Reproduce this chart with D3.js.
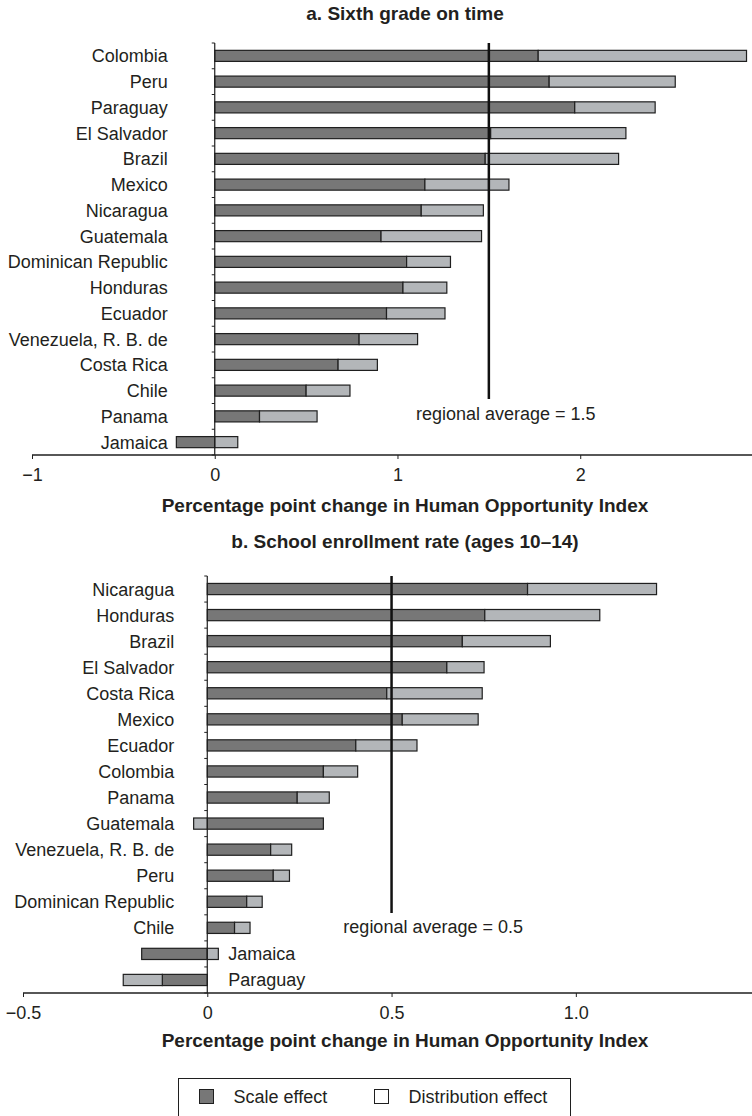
<!DOCTYPE html>
<html>
<head>
<meta charset="utf-8">
<script src="https://cdn.jsdelivr.net/npm/d3@7"></script>
<style>
  body { margin: 0; background: #fff; }
  svg { display: block; }
  .lbl { font-family: "Liberation Sans", Arial, sans-serif; font-size: 18px; fill: #231f20; }
  .ttl { font-family: "Liberation Sans Narrow", "Liberation Sans", Arial, sans-serif; font-weight: bold; font-size: 19px; fill: #231f20; }
</style>
</head>
<body>
<div id="chart"></div>
<script>
// panel a: sixth grade on time
var topTitle = 'a. Sixth grade on time';
var topCountries = ['Colombia', 'Peru', 'Paraguay', 'El Salvador', 'Brazil', 'Mexico', 'Nicaragua',
  'Guatemala', 'Dominican Republic', 'Honduras', 'Ecuador', 'Venezuela, R. B. de', 'Costa Rica',
  'Chile', 'Panama', 'Jamaica'];
var topScale = [1.77, 1.83, 1.97, 1.51, 1.48, 1.15, 1.13, 0.91, 1.05, 1.03, 0.94, 0.79, 0.675, 0.50, 0.245, -0.21];
var topDist  = [1.14, 0.69, 0.44, 0.74, 0.73, 0.46, 0.34, 0.55, 0.24, 0.24, 0.32, 0.32, 0.215, 0.24, 0.315, 0.126];
var topTicks = [-1, 0, 1, 2];
var topTickLabels = ['\u22121', '0', '1', '2'];
var topAverage = 1.5;

// panel b: school enrollment rate
var botTitle = 'b. School enrollment rate (ages 10\u201314)';
var botCountries = ['Nicaragua', 'Honduras', 'Brazil', 'El Salvador', 'Costa Rica', 'Mexico', 'Ecuador',
  'Colombia', 'Panama', 'Guatemala', 'Venezuela, R. B. de', 'Peru', 'Dominican Republic', 'Chile',
  'Jamaica', 'Paraguay'];
var botScale = [0.869, 0.753, 0.692, 0.650, 0.487, 0.529, 0.403, 0.315, 0.244, 0.315, 0.172, 0.179, 0.107, 0.074, -0.178, -0.122];
var botDist  = [0.350, 0.312, 0.239, 0.101, 0.259, 0.206, 0.166, 0.093, 0.087, -0.037, 0.057, 0.044, 0.042, 0.042, 0.030, -0.106];
var botTicks = [-0.5, 0, 0.5, 1.0];
var botTickLabels = ['\u22120.5', '0', '0.5', '1.0'];
var botAverage = 0.5;
var botRightLabels = ['Jamaica', 'Paraguay'];

var xTitle = 'Percentage point change in Human Opportunity Index';
var legendLabels = ['Scale effect', 'Distribution effect'];

var W = 752, H = 1116;
var dark = '#777777', light = '#b3b6b9', ink = '#1f1f1f';

var svg = d3.select('#chart').append('svg').attr('width', W).attr('height', H);

function drawPanel(p) {
  var rows = p.countries.map(function(c, i) {
    return {country: c, scale: p.scale[i], dist: p.dist[i]};
  });
  var x = d3.scaleLinear().domain(p.domain).range([p.left, W]);
  var y = d3.scaleBand().domain(p.countries).range([p.top, p.bottom]);
  var barH = y.bandwidth() * 0.43;
  var g = svg.append('g');

  var series = d3.stack().keys(['scale', 'dist']).offset(d3.stackOffsetDiverging)(rows);
  var fills = {scale: dark, dist: light};

  series.forEach(function(s) {
    g.selectAll(null).data(s).enter().append('rect')
      .attr('x', function(d) { return x(Math.min(d[0], d[1])); })
      .attr('width', function(d) { return Math.abs(x(d[1]) - x(d[0])); })
      .attr('y', function(d) { return y(d.data.country) + (y.bandwidth() - barH) / 2; })
      .attr('height', barH)
      .attr('fill', fills[s.key])
      .attr('stroke', ink)
      .attr('stroke-width', 1.2);
  });

  // y axis line with ticks at band edges
  var x0 = x(0);
  g.append('line').attr('x1', x0).attr('x2', x0).attr('y1', p.top).attr('y2', p.bottom)
    .attr('stroke', ink).attr('stroke-width', 1.2);
  var edges = p.countries.map(function(c) { return y(c); }).concat([p.bottom]);
  g.selectAll(null).data(edges).enter().append('line')
    .attr('x1', x0 - 3).attr('x2', x0).attr('y1', function(d) { return d; }).attr('y2', function(d) { return d; })
    .attr('stroke', ink).attr('stroke-width', 1);

  // category labels
  g.selectAll(null).data(p.countries).enter().append('text')
    .attr('class', 'lbl')
    .attr('x', function(c) { return p.rightLabels.indexOf(c) >= 0 ? x0 + 21 : x0 - p.labelGap; })
    .attr('y', function(c) { return y(c) + y.bandwidth() / 2 + 6.5; })
    .attr('text-anchor', function(c) { return p.rightLabels.indexOf(c) >= 0 ? 'start' : 'end'; })
    .text(function(c) { return c; });

  // x axis
  var xAxis = d3.axisBottom(x).tickValues(p.ticks).tickSize(4).tickSizeOuter(0)
    .tickFormat(function(d, i) { return p.tickLabels[i]; });
  var ax = g.append('g').attr('transform', 'translate(0,' + p.bottom + ')').call(xAxis);
  ax.select('.domain').attr('stroke', ink).attr('stroke-width', 1.5).attr('d', 'M' + x(p.domain[0]) + ',0H' + W);
  ax.selectAll('.tick line').attr('stroke', ink).attr('stroke-width', 1);
  ax.selectAll('.tick text').attr('class', 'lbl').attr('font-size', null).attr('font-family', null)
    .attr('fill', null).attr('dy', null).attr('y', p.tickY - p.bottom);

  // regional average
  var xa = x(p.average);
  g.append('line').attr('x1', xa).attr('x2', xa).attr('y1', p.top).attr('y2', p.avgBottom)
    .attr('stroke', '#111').attr('stroke-width', 2.5);
  g.append('text').attr('class', 'lbl')
    .attr('x', p.avgLabelX).attr('y', p.avgLabelY)
    .attr('text-anchor', p.avgAnchor)
    .text('regional average = ' + p.average);

  // titles
  g.append('text').attr('class', 'ttl').attr('x', 405).attr('y', p.titleY)
    .attr('text-anchor', 'middle').text(p.title);
  g.append('text').attr('class', 'ttl').attr('x', 405).attr('y', p.xTitleY)
    .attr('text-anchor', 'middle').text(xTitle);
}

drawPanel({
  title: topTitle, countries: topCountries, scale: topScale, dist: topDist,
  domain: [-1, 2.94], left: 32, top: 43, bottom: 455,
  ticks: topTicks, tickLabels: topTickLabels, tickY: 481,
  average: topAverage, avgBottom: 399, avgLabelX: 416, avgLabelY: 420, avgAnchor: 'start',
  labelGap: 47, rightLabels: [], titleY: 20, xTitleY: 512
});

drawPanel({
  title: botTitle, countries: botCountries, scale: botScale, dist: botDist,
  domain: [-0.5, 1.478], left: 23, top: 576, bottom: 993,
  ticks: botTicks, tickLabels: botTickLabels, tickY: 1019,
  average: botAverage, avgBottom: 913, avgLabelX: 523, avgLabelY: 933, avgAnchor: 'end',
  labelGap: 33, rightLabels: botRightLabels, titleY: 548, xTitleY: 1047
});

// legend
var lg = svg.append('g');
lg.append('rect').attr('x', 178.5).attr('y', 1078.5).attr('width', 392).attr('height', 50)
  .attr('fill', 'none').attr('stroke', ink).attr('stroke-width', 1);
var legendX = [199.5, 374.5];
var legendFill = [dark, '#fff'];
legendLabels.forEach(function(t, i) {
  lg.append('rect').attr('x', legendX[i]).attr('y', 1089.5).attr('width', 14).attr('height', 14)
    .attr('fill', legendFill[i]).attr('stroke', ink).attr('stroke-width', 1);
  lg.append('text').attr('class', 'lbl').attr('x', legendX[i] + 34).attr('y', 1103).text(t);
});
</script>
</body>
</html>
